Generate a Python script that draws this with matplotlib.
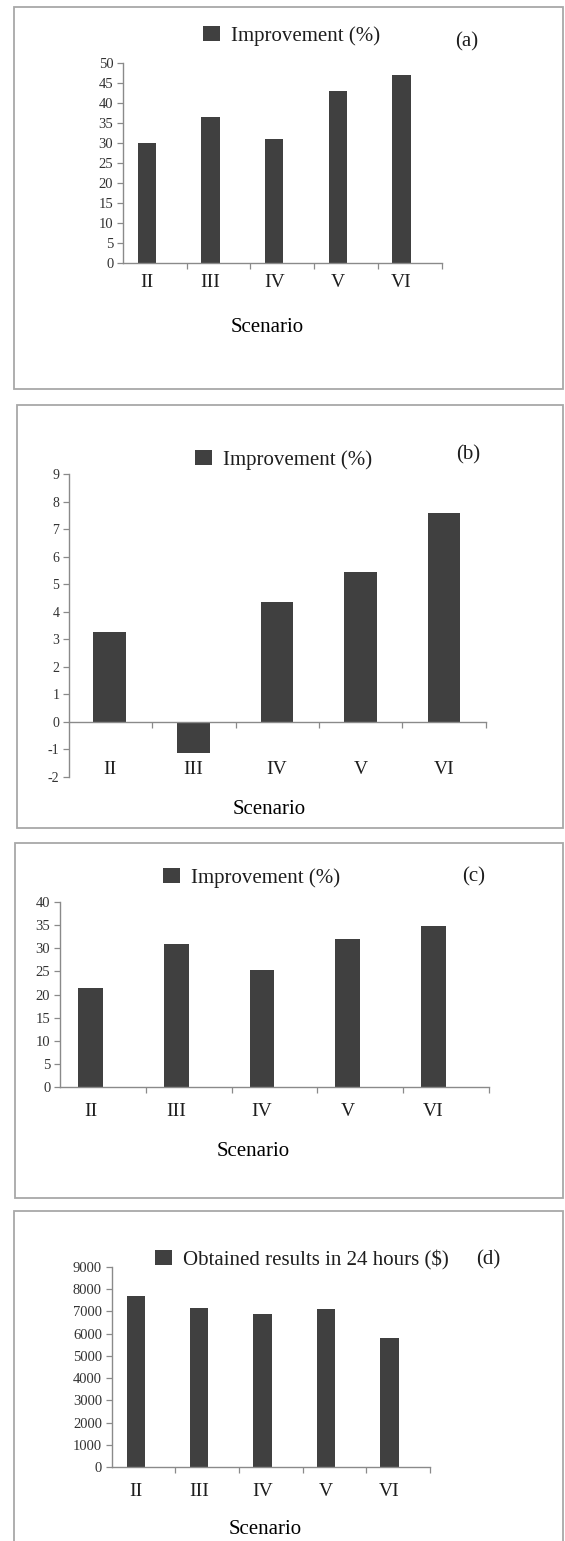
import matplotlib
matplotlib.use("Agg")
import matplotlib.pyplot as plt
from matplotlib.patches import Rectangle

# data
scenarios = ["II", "III", "IV", "V", "VI"]
improve_a = [30.0, 36.5, 31.0, 43.0, 47.0]
improve_b = [3.25, -1.15, 4.35, 5.45, 7.6]
improve_c = [21.5, 30.8, 25.3, 32.0, 34.8]
results_d = [7700, 7150, 6900, 7080, 5820]

yticks_a = list(range(0, 51, 5))
yticks_b = list(range(-2, 10))
yticks_c = list(range(0, 41, 5))
yticks_d = list(range(0, 9001, 1000))

W, H = 565, 1541
BAR = "#404040"
AXIS = "#8a8a8a"
TEXT = "#1e1e1e"

plt.rcParams["font.family"] = ["Liberation Serif", "DejaVu Serif"]
plt.rcParams["text.color"] = TEXT
plt.rcParams["axes.unicode_minus"] = False

fig = plt.figure(figsize=(W / 100, H / 100), dpi=100)


def fx(x):
    return x / W


def fy(y):
    return 1 - y / H


def panel(box, rect, values, yticks, xlim, width, legend_txt, legend_pos,
          tag, tag_pos, xlab_pos, pad, ytick_size=10.5):
    # grey frame round each panel
    x0, y0, x1, y1 = box
    fig.add_artist(Rectangle((fx(x0), fy(y1)), fx(x1) - fx(x0), fy(y0) - fy(y1),
                             transform=fig.transFigure, fill=False,
                             ec="#a8a8a8", lw=1.3))

    left, top, right, bottom = rect
    ax = fig.add_axes([fx(left), fy(bottom), fx(right) - fx(left), fy(top) - fy(bottom)])
    ax.set_facecolor("none")
    pos = list(range(len(scenarios)))
    ax.bar(pos, values, width=width, color=BAR, label=legend_txt, zorder=1)
    ax.set_xlim(*xlim)
    ax.set_ylim(yticks[0], yticks[-1])

    for s in ["top", "right"]:
        ax.spines[s].set_visible(False)
    ax.spines["left"].set_color(AXIS)
    ax.spines["bottom"].set_color(AXIS)
    ax.spines["left"].set_linewidth(1.0)
    ax.spines["bottom"].set_linewidth(1.0)
    ax.spines["bottom"].set_position(("data", 0))
    ax.spines["bottom"].set_zorder(3)

    ax.set_yticks(yticks)
    ax.tick_params(axis="y", direction="out", length=4, width=0.9, color=AXIS,
                   pad=3, labelsize=ytick_size, labelcolor="#333333")

    ax.set_xticks(pos)
    ax.set_xticklabels(scenarios)
    ax.tick_params(axis="x", which="major", length=0, pad=pad, labelsize=14,
                   labelcolor=TEXT)
    step = (xlim[1] - xlim[0]) / len(scenarios)
    ax.set_xticks([xlim[0] + step * k for k in range(1, len(scenarios) + 1)], minor=True)
    ax.tick_params(axis="x", which="minor", direction="out", length=4, width=0.9,
                   color=AXIS)

    ax.set_xlabel("Scenario", fontsize=15)
    ax.xaxis.set_label_coords(fx(xlab_pos[0]), fy(xlab_pos[1]), transform=fig.transFigure)
    ax.xaxis.label.set_va("center")

    ax.legend(loc="center left", bbox_to_anchor=(fx(legend_pos[0]), fy(legend_pos[1])),
              bbox_transform=fig.transFigure, frameon=False, borderpad=0,
              borderaxespad=0, handlelength=0.8, handleheight=0.7,
              handletextpad=0.55, fontsize=15)
    fig.text(fx(tag_pos[0]), fy(tag_pos[1]), tag, fontsize=15, ha="center", va="center")
    return ax


panel((14, 7, 563, 389), (123, 63.3, 441.7, 263.3), improve_a, yticks_a,
      (-0.374, 4.63), 0.287, "Improvement (%)", (203, 36), "(a)", (467, 42),
      (267, 327), 8)

panel((17, 405, 563, 828), (69, 474.3, 485.7, 776.7), improve_b, yticks_b,
      (-0.487, 4.50), 0.39, "Improvement (%)", (195, 460), "(b)", (468, 455),
      (269, 810), 28, ytick_size=10)

panel((15, 843, 563, 1198), (60, 901.7, 489, 1087.3), improve_c, yticks_c,
      (-0.36, 4.65), 0.29, "Improvement (%)", (163, 878), "(c)", (474, 877),
      (253, 1152), 11)

panel((14, 1211, 563, 1560), (111.7, 1266.7, 430, 1467.3), results_d, yticks_d,
      (-0.38, 4.64), 0.29, "Obtained results in 24 hours ($)", (155, 1260), "(d)",
      (488, 1260), (265, 1530), 11)

fig.savefig("out.png", dpi=100)
